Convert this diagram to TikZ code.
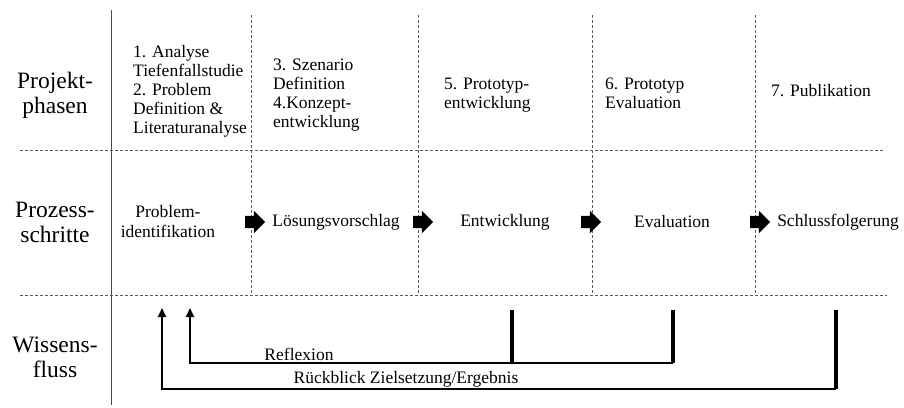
\documentclass[tikz,border=0pt]{standalone}
\usepackage{fontspec}
\setmainfont{Liberation Serif}
\usetikzlibrary{arrows.meta, positioning, shapes.arrows}

\tikzset{
  rowlabel/.style={font=\fontsize{23.5}{25}\selectfont, align=center, inner sep=0pt},
  phasetext/.style={font=\fontsize{17.5}{19}\selectfont, align=left, anchor=west, inner sep=0pt},
  steptext/.style={font=\fontsize{17.5}{20}\selectfont, align=center, inner sep=0pt},
  flowtext/.style={font=\fontsize{17.5}{19}\selectfont, anchor=south, inner sep=1pt},
  sepline/.style={black!65, line width=.8pt, dash pattern=on 3pt off 2pt},
  nextarrow/.style={single arrow, fill=black, draw=none, inner xsep=0pt, inner ysep=6pt,
    text height=0pt, text depth=0pt, text width=0pt,
    minimum height=20pt, minimum width=22pt, single arrow head extend=5pt},
  flowline/.style={line width=2pt, -{Triangle[length=9pt,width=8pt]}},
  flowstub/.style={line width=3.5pt}
}

\begin{document}
\begin{tikzpicture}[x=1pt, y=-1pt]
  \useasboundingbox (0,0) rectangle (904,407);

  % Raster
  \draw[black!70, line width=1pt] (111,10) -- (111,405);
  \draw[sepline] (20,150) -- (883,150);
  \draw[sepline] (20,295) -- (887,295);
  \foreach \xs in {251,418,592,755}
    \draw[sepline] (\xs,15) -- (\xs,295);

  % Zeilen
  \node[rowlabel] (rowPhasen) at (55,95) {Projekt-\\phasen};
  \node[rowlabel] (rowSchritte) at (55,222) {Prozess-\\schritte};
  \node[rowlabel] (rowFluss) at (55,357) {Wissens-\\fluss};

  % Projektphasen
  \node[phasetext] (phaseA) at (133,91) {1. Analyse\\Tiefenfallstudie\\2. Problem\\Definition \&\\Literaturanalyse};
  \node[phasetext] (phaseB) at (273,95.5) {3. Szenario\\Definition\\4.Konzept-\\entwicklung};
  \node[phasetext] (phaseC) at (444,95) {5. Prototyp-\\entwicklung};
  \node[phasetext] (phaseD) at (605,93.5) {6. Prototyp\\Evaluation};
  \node[phasetext] (phaseE) at (771,91) {7. Publikation};

  % Prozessschritte
  \node[steptext] (stepA) at (168,222) {Problem-\\identifikation};
  \node[steptext] (stepB) at (336,222) {Lösungsvorschlag};
  \node[steptext] (stepC) at (505,222) {Entwicklung};
  \node[steptext] (stepD) at (672,222) {Evaluation};
  \node[steptext] (stepE) at (838,222) {Schlussfolgerung};

  \node[nextarrow] (nextA) at (252,222) {};
  \node[nextarrow] (nextB) at (420,222) {};
  \node[nextarrow] (nextC) at (588,222) {};
  \node[nextarrow] (nextD) at (757,222) {};

  % Wissensfluss
  \coordinate (reflTip) at (190,308);
  \coordinate (backTip) at (162,308);
  \coordinate (reflC) at (512,310);
  \coordinate (reflR) at (673,310);
  \coordinate (backR) at (836,310);

  \draw[flowstub] (reflC) -- ++(0,53);
  \draw[flowstub] (reflR) -- ++(0,53);
  \draw[flowstub] (backR) -- ++(0,79);
  \draw[flowline] (reflR) ++(0,53) -| (reflTip);
  \draw[flowline] (backR) ++(0,79) -| (backTip);

  \node[flowtext] (reflText) at (299,362) {Reflexion};
  \node[flowtext] (backText) at (406,388) {Rückblick Zielsetzung/Ergebnis};
\end{tikzpicture}
\end{document}
